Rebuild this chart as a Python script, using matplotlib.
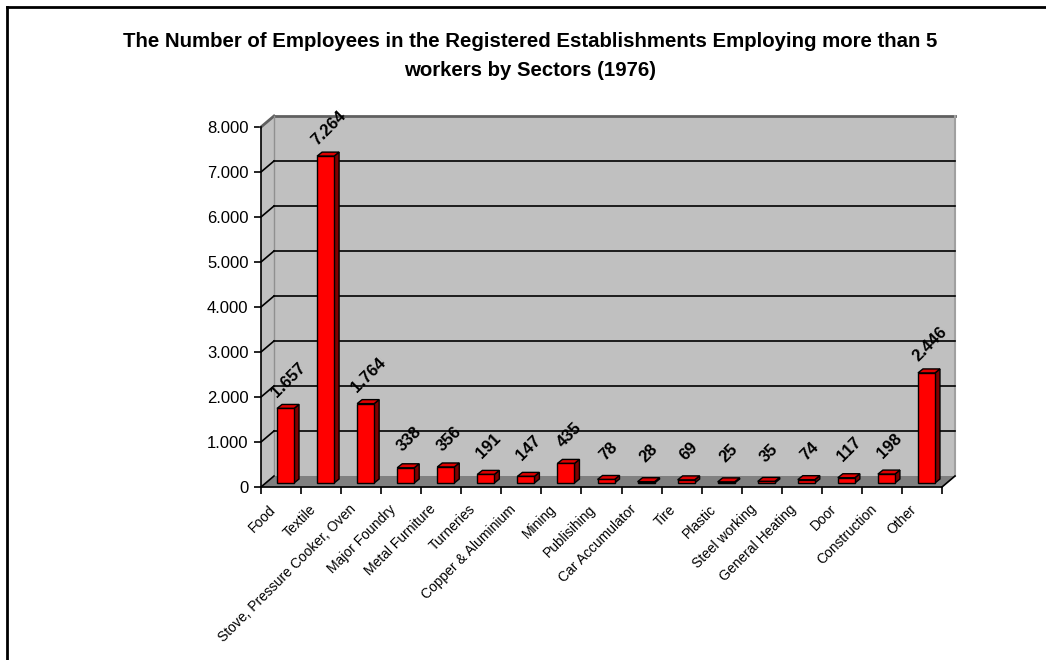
import matplotlib
matplotlib.use("Agg")
import matplotlib.pyplot as plt
from matplotlib.patches import Polygon, Rectangle
from matplotlib.lines import Line2D

plt.rcParams['font.family'] = ['Liberation Sans', 'DejaVu Sans']

categories = ["Food", "Textile", "Stove, Pressure Cooker, Oven", "Major Foundry",
              "Metal Furniture", "Turneries", "Copper & Aluminium", "Mining",
              "Publisihing", "Car Accumulator", "Tire", "Plastic", "Steel working",
              "General Heating", "Door", "Construction", "Other"]
values = [1657, 7264, 1764, 338, 356, 191, 147, 435, 78, 28, 69, 25, 35, 74, 117, 198, 2446]
value_labels = ["1.657", "7.264", "1.764", "338", "356", "191", "147", "435", "78",
                "28", "69", "25", "35", "74", "117", "198", "2.446"]
yticks = [0, 1000, 2000, 3000, 4000, 5000, 6000, 7000, 8000]
ytick_labels = ["0", "1.000", "2.000", "3.000", "4.000", "5.000", "6.000", "7.000", "8.000"]
title = ("The Number of Employees in the Registered Establishments Employing more than 5\n"
         "workers by Sectors (1976)")

W, H = 1046, 660
fig = plt.figure(figsize=(W / 100, H / 100), dpi=100)
fig.patch.set_facecolor("white")

# outer frame (left and top edges visible)
fig.add_artist(Line2D([7 / W, 7 / W], [0, 1 - 7 / H], transform=fig.transFigure,
                      color="black", lw=2))
fig.add_artist(Line2D([7 / W, 1], [1 - 7 / H, 1 - 7 / H], transform=fig.transFigure,
                      color="black", lw=2))

x_left, x_right = 261, 942
y_bot, y_top = 487, 127
ax = fig.add_axes([x_left / W, 1 - y_bot / H, (x_right - x_left) / W, (y_bot - y_top) / H])
n = len(categories)
x0, x1 = -0.5, n - 0.5
ax.set_xlim(x0, x1)
ax.set_ylim(0, 8000)
for s in ax.spines.values():
    s.set_visible(False)
ax.patch.set_visible(False)

px_x = (x_right - x_left) / (x1 - x0)   # px per category unit
px_y = (y_bot - y_top) / 8000.0         # px per value unit
DX = 13 / px_x
DY = 11 / px_y

# floor
ax.add_patch(Polygon([(x0, 0), (x1, 0), (x1 + DX, DY), (x0 + DX, DY)], closed=True,
                     facecolor="#808080", edgecolor="#808080", lw=0.5, clip_on=False, zorder=1))
# back wall
ax.add_patch(Polygon([(x0 + DX, DY), (x1 + DX, DY), (x1 + DX, 8000 + DY), (x0 + DX, 8000 + DY)],
                     closed=True, facecolor="#C0C0C0", edgecolor="none", clip_on=False, zorder=1))
# side wall
ax.add_patch(Polygon([(x0, 0), (x0 + DX, DY), (x0 + DX, 8000 + DY), (x0, 8000)], closed=True,
                     facecolor="#C0C0C0", edgecolor="none", clip_on=False, zorder=1))
# wall edges
ax.plot([x0 + DX, x1 + DX], [8000 + DY, 8000 + DY], color="#606060", lw=2, clip_on=False, zorder=2)
ax.plot([x0, x0 + DX], [8000, 8000 + DY], color="#606060", lw=2, clip_on=False, zorder=2)
ax.plot([x1 + DX, x1 + DX], [DY, 8000 + DY], color="#A0A0A0", lw=1.5, clip_on=False, zorder=2)
ax.plot([x0 + DX, x0 + DX], [DY, 8000 + DY], color="#909090", lw=1, clip_on=False, zorder=2)

# gridlines
for t in yticks[1:-1]:
    ax.plot([x0 + DX, x1 + DX], [t + DY, t + DY], color="black", lw=1.2, clip_on=False, zorder=2)
for t in yticks[:-1]:
    ax.plot([x0, x0 + DX], [t, t + DY], color="black", lw=1.2, clip_on=False, zorder=2)
ax.plot([x1, x1 + DX], [0, DY], color="black", lw=1.2, clip_on=False, zorder=2)

# bars
bw = 17 / px_x
bdx = 5 / px_x
bdy = 4 / px_y
off_x = 4.5 / px_x
off_y = 4 / px_y
for i, v in enumerate(values):
    xc = i + off_x
    xl, xr = xc - bw / 2, xc + bw / 2
    yb, yt = off_y, v + off_y
    ax.add_patch(Polygon([(xr, yb), (xr + bdx, yb + bdy), (xr + bdx, yt + bdy), (xr, yt)],
                         closed=True, facecolor="#800000", edgecolor="black", lw=1,
                         clip_on=False, zorder=3))
    ax.add_patch(Polygon([(xl, yt), (xr, yt), (xr + bdx, yt + bdy), (xl + bdx, yt + bdy)],
                         closed=True, facecolor="#E00000", edgecolor="black", lw=1,
                         clip_on=False, zorder=3))
    ax.add_patch(Rectangle((xl, yb), bw, v, facecolor="#FF0000", edgecolor="black", lw=1,
                           clip_on=False, zorder=4))
    ax.annotate(value_labels[i], xy=(xc, yt), xytext=(2.2, 20.5), textcoords="offset points",
                rotation=45, ha="center", va="center", fontsize=12, fontweight="bold",
                annotation_clip=False, zorder=5)

# front axes lines
ax.plot([x0, x0], [0, 8000], color="black", lw=1.2, clip_on=False, zorder=6)
ax.plot([x0, x1], [0, 0], color="black", lw=1.2, clip_on=False, zorder=6)

ax.set_yticks(yticks)
ax.set_yticklabels(ytick_labels, fontsize=12)
ax.set_xticks([b - 0.5 for b in range(n + 1)])
ax.set_xticklabels([])
ax.tick_params(axis="both", direction="out", length=5, width=1.2, color="black")
ax.tick_params(axis="y", pad=4)

# category labels
for i, c in enumerate(categories):
    ax.annotate(c, xy=(i, 0), xytext=(-9, -11), textcoords="offset points",
                rotation=45, ha="right", va="top", rotation_mode="anchor",
                fontsize=10, annotation_clip=False)

fig.text(530 / W, 1 - 56 / H, title, ha="center", va="center", fontsize=14.7,
         fontweight="bold", linespacing=1.65)

fig.savefig("out.png", dpi=100)
